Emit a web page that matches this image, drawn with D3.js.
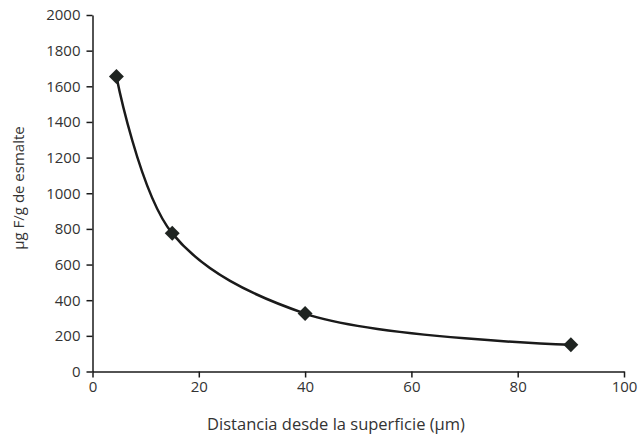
<!DOCTYPE html>
<html>
<head>
<meta charset="utf-8">
<script src="https://cdn.jsdelivr.net/npm/d3@7"></script>
<style>
  body { margin: 0; background: #fff; }
  svg text { font-family: "Open Sans", Lato, sans-serif; fill: #333; }
</style>
</head>
<body>
<div class="chart"><svg></svg></div>
<script>
"use strict";

const CHART_WIDTH = 639;
const CHART_HEIGHT = 434;

// data
const distances = [4.5, 15, 40, 90];
const fluoride = [1655, 775, 325, 150];
const xTicks = [0, 20, 40, 60, 80, 100];
const yTicks = [0, 200, 400, 600, 800, 1000, 1200, 1400, 1600, 1800, 2000];
const xTitle = 'Distancia desde la superficie (µm)';
const yTitle = 'µg F/g de esmalte';

const margin = {top: 15, right: 15, bottom: 62.5, left: 92.5};

const svg = d3.select('.chart').select('svg')
    .attr('width', CHART_WIDTH)
    .attr('height', CHART_HEIGHT);

const x = d3.scaleLinear()
    .domain([0, 100])
    .range([margin.left, CHART_WIDTH - margin.right]);

const y = d3.scaleLinear()
    .domain([0, 2000])
    .range([CHART_HEIGHT - margin.bottom, margin.top]);

const xAxis = svg.append('g')
    .attr('transform', `translate(0,${y(0)})`)
    .call(d3.axisBottom(x).tickValues(xTicks).tickFormat(d3.format('d'))
        .tickSize(6).tickSizeOuter(0).tickPadding(4));

const yAxis = svg.append('g')
    .attr('transform', `translate(${x(0)},0)`)
    .call(d3.axisLeft(y).tickValues(yTicks).tickFormat(d3.format('d'))
        .tickSize(6).tickSizeOuter(0).tickPadding(6));

[xAxis, yAxis].forEach(g => {
    g.attr('font-size', 15).attr('font-family', null);
    g.selectAll('path, line').attr('stroke', '#1a1a1a').attr('stroke-width', 1.5);
    g.selectAll('text').attr('fill', '#333');
});

const points = distances.map((d, i) => [d, fluoride[i]]);

const line = d3.line()
    .x(d => x(d[0]))
    .y(d => y(d[1]))
    .curve(d3.curveCatmullRom.alpha(0.5));

svg.append('path')
    .datum(points)
    .attr('d', line)
    .attr('fill', 'none')
    .attr('stroke', '#1a1a1a')
    .attr('stroke-width', 2.5);

const diamond = d3.symbol().type(d3.symbolSquare).size(112);

svg.append('g').selectAll('path')
    .data(points)
    .join('path')
    .attr('d', diamond)
    .attr('transform', d => `translate(${x(d[0])},${y(d[1])}) rotate(45)`)
    .attr('fill', '#1f2421');

svg.append('text')
    .attr('x', 336)
    .attr('y', 430)
    .attr('text-anchor', 'middle')
    .attr('font-size', 16.5)
    .text(xTitle);

svg.append('text')
    .attr('transform', 'translate(24,188) rotate(-90)')
    .attr('text-anchor', 'middle')
    .attr('font-size', 15)
    .text(yTitle);
</script>
</body>
</html>
